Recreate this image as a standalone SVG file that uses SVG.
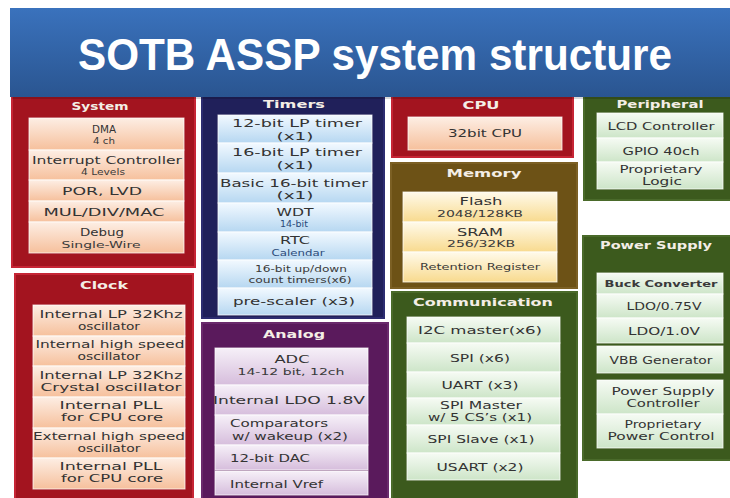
<svg xmlns="http://www.w3.org/2000/svg" width="730" height="498" viewBox="0 0 730 498">
<defs>
<linearGradient id="gTitle" x1="0" y1="0" x2="0" y2="1"><stop offset="0" stop-color="#3a72bd"/><stop offset="1" stop-color="#2a5590"/></linearGradient>
<linearGradient id="gRed" x1="0" y1="0" x2="0" y2="1"><stop offset="0" stop-color="#fdeee4"/><stop offset="1" stop-color="#f6c09c"/></linearGradient>
<linearGradient id="gBlue" x1="0" y1="0" x2="0" y2="1"><stop offset="0" stop-color="#f2f9ff"/><stop offset="1" stop-color="#b6d7f1"/></linearGradient>
<linearGradient id="gPurp" x1="0" y1="0" x2="0" y2="1"><stop offset="0" stop-color="#f6f0f8"/><stop offset="1" stop-color="#d6bddc"/></linearGradient>
<linearGradient id="gBrown" x1="0" y1="0" x2="0" y2="1"><stop offset="0" stop-color="#fffaea"/><stop offset="1" stop-color="#f8da8e"/></linearGradient>
<linearGradient id="gGreen" x1="0" y1="0" x2="0" y2="1"><stop offset="0" stop-color="#f6fbf4"/><stop offset="1" stop-color="#cde5c8"/></linearGradient>
</defs>
<style>
.pr{fill:#a3141f;stroke:#c62535;stroke-width:2}
.pn{fill:#20205a;stroke:#2c2c70;stroke-width:2}
.pp{fill:#5a1a5c;stroke:#6a2a6c;stroke-width:2}
.pb{fill:#6d5216;stroke:#7c6024;stroke-width:2}
.pg{fill:#3c5a1d;stroke:#4a6a2a;stroke-width:2}
.ir{fill:url(#gRed)}
.ib{fill:url(#gBlue)}
.ip{fill:url(#gPurp)}
.iy{fill:url(#gBrown)}
.ig{fill:url(#gGreen)}
.it rect{stroke:#ffffff;stroke-opacity:0.75;stroke-width:1}
text{font-family:"DejaVu Sans","Verdana",sans-serif}
.h{font-size:11px;font-weight:bold;fill:#f4eee6;text-anchor:middle}
.m{font-size:11px;fill:#333333;text-anchor:middle}
.m2{font-size:10px;fill:#333333;text-anchor:middle}
.s{font-size:9px;fill:#3a3a3a;text-anchor:middle}
.sb{font-size:9px;fill:#2a4a7a;text-anchor:middle}
.l{text-anchor:start}
.title{font-family:"Liberation Sans",Arial,sans-serif;font-size:45px;font-weight:bold;fill:#ffffff;text-anchor:middle}
</style>

<!-- panels -->
<g id="system">
<rect class="pr" x="12" y="90" width="183" height="177"/>
<text class="h" x="100" y="110" textLength="57" lengthAdjust="spacingAndGlyphs">System</text>
<g class="it" id="dma"><rect class="ir" x="29" y="118" width="155" height="32"/><text class="m" x="104" y="133" textLength="24" lengthAdjust="spacingAndGlyphs">DMA</text><text class="s" x="104" y="144" textLength="22" lengthAdjust="spacingAndGlyphs">4 ch</text></g>
<g class="it" id="intc"><rect class="ir" x="29" y="150" width="155" height="30"/><text class="m" x="107" y="164" textLength="150" lengthAdjust="spacingAndGlyphs">Interrupt Controller</text><text class="s" x="103" y="175" textLength="44" lengthAdjust="spacingAndGlyphs">4 Levels</text></g>
<g class="it" id="por"><rect class="ir" x="29" y="180" width="155" height="21"/><text class="m" x="102" y="195" textLength="80" lengthAdjust="spacingAndGlyphs">POR, LVD</text></g>
<g class="it" id="mul"><rect class="ir" x="29" y="201" width="155" height="21"/><text class="m" x="104" y="216" textLength="121" lengthAdjust="spacingAndGlyphs">MUL/DIV/MAC</text></g>
<g class="it" id="debug"><rect class="ir" x="29" y="222" width="155" height="31"/><text class="m" x="102" y="236" textLength="44" lengthAdjust="spacingAndGlyphs">Debug</text><text class="s" x="101" y="248" textLength="79" lengthAdjust="spacingAndGlyphs">Single-Wire</text></g>
</g>

<g id="clock">
<rect class="pr" x="15" y="274" width="178" height="230"/>
<text class="h" x="104" y="289" textLength="48" lengthAdjust="spacingAndGlyphs">Clock</text>
<g class="it" id="lposc"><rect class="ir" x="33" y="305" width="152" height="31"/><text class="m2" x="111" y="318" textLength="143" lengthAdjust="spacingAndGlyphs">Internal LP 32Khz</text><text class="m2" x="109" y="330" textLength="62" lengthAdjust="spacingAndGlyphs">oscillator</text></g>
<g class="it" id="hsosc"><rect class="ir" x="33" y="336" width="152" height="30"/><text class="m2" x="110" y="348" textLength="149" lengthAdjust="spacingAndGlyphs">Internal high speed</text><text class="m2" x="109" y="360" textLength="63" lengthAdjust="spacingAndGlyphs">oscillator</text></g>
<g class="it" id="xosc"><rect class="ir" x="33" y="366" width="152" height="31"/><text class="m2" x="111" y="379" textLength="143" lengthAdjust="spacingAndGlyphs">Internal LP 32Khz</text><text class="m2" x="111" y="391" textLength="141" lengthAdjust="spacingAndGlyphs">Crystal oscillator</text></g>
<g class="it" id="pll1"><rect class="ir" x="33" y="397" width="152" height="31"/><text class="m2" x="111" y="409" textLength="103" lengthAdjust="spacingAndGlyphs">Internal PLL</text><text class="m2" x="112" y="421" textLength="102" lengthAdjust="spacingAndGlyphs">for CPU core</text></g>
<g class="it" id="exosc"><rect class="ir" x="33" y="428" width="152" height="30"/><text class="m2" x="109" y="440" textLength="152" lengthAdjust="spacingAndGlyphs">External high speed</text><text class="m2" x="109" y="452" textLength="63" lengthAdjust="spacingAndGlyphs">oscillator</text></g>
<g class="it" id="pll2"><rect class="ir" x="33" y="458" width="152" height="31"/><text class="m2" x="111" y="470" textLength="103" lengthAdjust="spacingAndGlyphs">Internal PLL</text><text class="m2" x="112" y="482" textLength="102" lengthAdjust="spacingAndGlyphs">for CPU core</text></g>
</g>

<g id="timers">
<rect class="pn" x="202" y="90" width="182" height="228"/>
<text class="h" x="294" y="108" textLength="62" lengthAdjust="spacingAndGlyphs">Timers</text>
<g class="it" id="lpt12"><rect class="ib" x="218" y="115" width="154" height="28"/><text class="m" x="297" y="127" textLength="130" lengthAdjust="spacingAndGlyphs">12-bit LP timer</text><text class="m" x="295" y="140" textLength="37" lengthAdjust="spacingAndGlyphs">(x1)</text></g>
<g class="it" id="lpt16"><rect class="ib" x="218" y="143" width="154" height="30"/><text class="m" x="297" y="156" textLength="130" lengthAdjust="spacingAndGlyphs">16-bit LP timer</text><text class="m" x="295" y="169" textLength="37" lengthAdjust="spacingAndGlyphs">(x1)</text></g>
<g class="it" id="bt16"><rect class="ib" x="218" y="173" width="154" height="30"/><text class="m" x="294" y="187" textLength="148" lengthAdjust="spacingAndGlyphs">Basic 16-bit timer</text><text class="m" x="295" y="199" textLength="37" lengthAdjust="spacingAndGlyphs">(x1)</text></g>
<g class="it" id="wdt"><rect class="ib" x="218" y="203" width="154" height="29"/><text class="m" x="295" y="216" textLength="37" lengthAdjust="spacingAndGlyphs">WDT</text><text class="sb" x="294" y="227" textLength="28" lengthAdjust="spacingAndGlyphs">14-bit</text></g>
<g class="it" id="rtc"><rect class="ib" x="218" y="232" width="154" height="28"/><text class="m" x="295" y="244" textLength="30" lengthAdjust="spacingAndGlyphs">RTC</text><text class="sb" x="298" y="256" textLength="53" lengthAdjust="spacingAndGlyphs">Calendar</text></g>
<g class="it" id="udt"><rect class="ib" x="218" y="260" width="154" height="28"/><text class="s" x="301" y="272" textLength="92" lengthAdjust="spacingAndGlyphs">16-bit up/down</text><text class="s" x="300" y="283" textLength="103" lengthAdjust="spacingAndGlyphs">count timers(x6)</text></g>
<g class="it" id="presc"><rect class="ib" x="218" y="288" width="154" height="27"/><text class="m" x="294" y="305" textLength="122" lengthAdjust="spacingAndGlyphs">pre-scaler (x3)</text></g>
</g>

<g id="analog">
<rect class="pp" x="202" y="323" width="186" height="180"/>
<text class="h" x="294" y="338" textLength="62" lengthAdjust="spacingAndGlyphs">Analog</text>
<g class="it" id="adc"><rect class="ip" x="215" y="348" width="153" height="37"/><text class="m" x="292" y="363" textLength="35" lengthAdjust="spacingAndGlyphs">ADC</text><text class="s" x="291" y="375" textLength="107" lengthAdjust="spacingAndGlyphs">14-12 bit, 12ch</text></g>
<g class="it" id="ldo18"><rect class="ip" x="215" y="385" width="153" height="30"/><text class="m" x="289" y="404" textLength="152" lengthAdjust="spacingAndGlyphs">Internal LDO 1.8V</text></g>
<g class="it" id="comp"><rect class="ip" x="215" y="415" width="153" height="30"/><text class="m2 l" x="230" y="427" textLength="98" lengthAdjust="spacingAndGlyphs">Comparators</text><text class="m2 l" x="232" y="440" textLength="116" lengthAdjust="spacingAndGlyphs">w/ wakeup (x2)</text></g>
<g class="it" id="dac"><rect class="ip" x="215" y="445" width="153" height="25"/><text class="m l" x="230" y="462" textLength="80" lengthAdjust="spacingAndGlyphs">12-bit DAC</text></g>
<g class="it" id="vref"><rect class="ip" x="215" y="471" width="153" height="24"/><text class="m l" x="230" y="488" textLength="93" lengthAdjust="spacingAndGlyphs">Internal Vref</text></g>
</g>

<g id="cpu">
<rect class="pr" x="392" y="90" width="181" height="67"/>
<text class="h" x="481" y="109" textLength="37" lengthAdjust="spacingAndGlyphs">CPU</text>
<g class="it" id="cpu32"><rect class="ir" x="408" y="117" width="154" height="33"/><text class="m" x="485" y="137" textLength="74" lengthAdjust="spacingAndGlyphs">32bit CPU</text></g>
</g>

<g id="memory">
<rect class="pb" x="391" y="163" width="186" height="125"/>
<text class="h" x="484" y="177" textLength="75" lengthAdjust="spacingAndGlyphs">Memory</text>
<g class="it" id="flash"><rect class="iy" x="403" y="192" width="154" height="30"/><text class="m" x="481" y="205" textLength="43" lengthAdjust="spacingAndGlyphs">Flash</text><text class="s" x="480" y="217" textLength="86" lengthAdjust="spacingAndGlyphs">2048/128KB</text></g>
<g class="it" id="sram"><rect class="iy" x="403" y="222" width="154" height="30"/><text class="m" x="480" y="236" textLength="46" lengthAdjust="spacingAndGlyphs">SRAM</text><text class="s" x="481" y="247" textLength="68" lengthAdjust="spacingAndGlyphs">256/32KB</text></g>
<g class="it" id="retreg"><rect class="iy" x="403" y="252" width="154" height="30"/><text class="s" x="480" y="270" textLength="120" lengthAdjust="spacingAndGlyphs">Retention Register</text></g>
</g>

<g id="communication">
<rect class="pg" x="392" y="292" width="185" height="211"/>
<text class="h" x="483" y="306" textLength="140" lengthAdjust="spacingAndGlyphs">Communication</text>
<g class="it" id="i2c"><rect class="ig" x="407" y="317" width="153" height="26"/><text class="m" x="480" y="334" textLength="124" lengthAdjust="spacingAndGlyphs">I2C master(x6)</text></g>
<g class="it" id="spi"><rect class="ig" x="407" y="343" width="153" height="29"/><text class="m" x="480" y="362" textLength="60" lengthAdjust="spacingAndGlyphs">SPI (x6)</text></g>
<g class="it" id="uart"><rect class="ig" x="407" y="372" width="153" height="26"/><text class="m" x="480" y="389" textLength="77" lengthAdjust="spacingAndGlyphs">UART (x3)</text></g>
<g class="it" id="spim"><rect class="ig" x="407" y="398" width="153" height="27"/><text class="m2" x="481" y="409" textLength="82" lengthAdjust="spacingAndGlyphs">SPI Master</text><text class="m2" x="480" y="421" textLength="104" lengthAdjust="spacingAndGlyphs">w/ 5 CS’s (x1)</text></g>
<g class="it" id="spis"><rect class="ig" x="407" y="425" width="153" height="28"/><text class="m" x="481" y="443" textLength="107" lengthAdjust="spacingAndGlyphs">SPI Slave (x1)</text></g>
<g class="it" id="usart"><rect class="ig" x="407" y="453" width="153" height="27"/><text class="m" x="480" y="471" textLength="87" lengthAdjust="spacingAndGlyphs">USART (x2)</text></g>
</g>

<g id="peripheral">
<rect class="pg" x="584" y="90" width="150" height="110"/>
<text class="h" x="660" y="108" textLength="87" lengthAdjust="spacingAndGlyphs">Peripheral</text>
<g class="it" id="lcd"><rect class="ig" x="597" y="113" width="126" height="25"/><text class="m" x="661" y="130" textLength="107" lengthAdjust="spacingAndGlyphs">LCD Controller</text></g>
<g class="it" id="gpio"><rect class="ig" x="597" y="138" width="126" height="24"/><text class="m" x="661" y="155" textLength="77" lengthAdjust="spacingAndGlyphs">GPIO 40ch</text></g>
<g class="it" id="plogic"><rect class="ig" x="597" y="162" width="126" height="27"/><text class="m2" x="661" y="173" textLength="83" lengthAdjust="spacingAndGlyphs">Proprietary</text><text class="m2" x="662" y="185" textLength="40" lengthAdjust="spacingAndGlyphs">Logic</text></g>
</g>

<g id="power">
<rect class="pg" x="583" y="236" width="151" height="224"/>
<text class="h" x="656" y="249" textLength="112" lengthAdjust="spacingAndGlyphs">Power Supply</text>
<g class="it" id="buck"><rect class="ig" x="597" y="273" width="126" height="21"/><text class="s" x="661" y="287" font-weight="bold" fill="#222" textLength="113" lengthAdjust="spacingAndGlyphs">Buck Converter</text></g>
<g class="it" id="ldo075"><rect class="ig" x="597" y="294" width="126" height="24"/><text class="m" x="664" y="310" textLength="75" lengthAdjust="spacingAndGlyphs">LDO/0.75V</text></g>
<g class="it" id="ldo10"><rect class="ig" x="597" y="318" width="126" height="25"/><text class="m" x="664" y="335" textLength="72" lengthAdjust="spacingAndGlyphs">LDO/1.0V</text></g>
<g class="it" id="vbb"><rect class="ig" x="597" y="346" width="126" height="27"/><text class="m" x="661" y="364" textLength="103" lengthAdjust="spacingAndGlyphs">VBB Generator</text></g>
<g class="it" id="psc"><rect class="ig" x="597" y="380" width="126" height="34"/><text class="m2" x="663" y="395" textLength="103" lengthAdjust="spacingAndGlyphs">Power Supply</text><text class="m2" x="663" y="407" textLength="73" lengthAdjust="spacingAndGlyphs">Controller</text></g>
<g class="it" id="ppc"><rect class="ig" x="597" y="414" width="126" height="34"/><text class="m2" x="663" y="428" textLength="77" lengthAdjust="spacingAndGlyphs">Proprietary</text><text class="m2" x="661" y="440" textLength="107" lengthAdjust="spacingAndGlyphs">Power Control</text></g>
</g>

<g id="connectors"/>

<g id="title">
<rect x="12" y="10" width="720" height="89" fill="#000" opacity="0.15"/>
<rect x="10" y="8" width="722" height="89" fill="url(#gTitle)"/>
<text class="title" x="375" y="70" textLength="594" lengthAdjust="spacingAndGlyphs">SOTB ASSP system structure</text>
</g>
</svg>
